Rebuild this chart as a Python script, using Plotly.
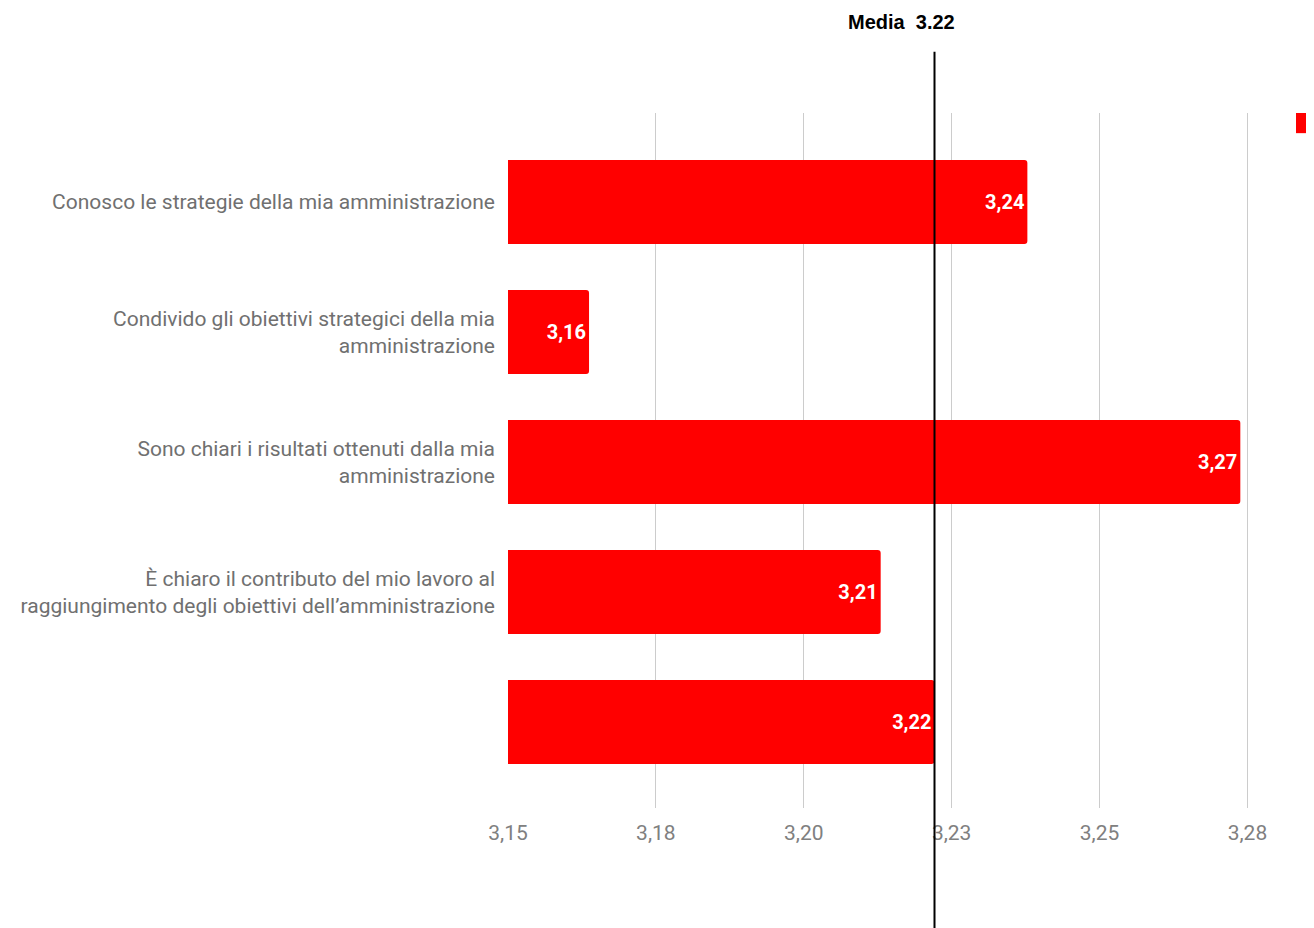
import plotly.graph_objects as go

categories = [
    "Conosco le strategie della mia amministrazione",
    "Condivido gli obiettivi strategici della mia<br>amministrazione",
    "Sono chiari i risultati ottenuti dalla mia<br>amministrazione",
    "È chiaro il contributo del mio lavoro al<br>raggiungimento degli obiettivi dell’amministrazione",
    " ",
]
values = [3.2378, 3.1637, 3.2738, 3.2130, 3.2221]
bar_labels = ["3,24", "3,16", "3,27", "3,21", "3,22"]
media_value = 3.2221
media_text = "Media  3.22"
tick_vals = [3.15, 3.175, 3.20, 3.225, 3.25, 3.275]
tick_labels = ["3,15", "3,18", "3,20", "3,23", "3,25", "3,28"]

RED = "#ff0000"

fig = go.Figure()
fig.add_trace(go.Bar(
    y=list(range(len(categories))),
    x=values,
    base=0,
    orientation="h",
    marker=dict(color=RED, line=dict(width=0)),
    text=bar_labels,
    textposition="inside",
    insidetextanchor="end",
    textfont=dict(family="Roboto", size=20, color="white", weight="bold"),
    showlegend=False,
    hoverinfo="skip",
))

fig.add_shape(type="line", xref="x", yref="paper",
              x0=media_value, x1=media_value, y0=-0.175, y1=1.088,
              line=dict(color="black", width=2))
fig.add_annotation(text=f"<b>{media_text}</b>", xref="x", yref="paper",
                   x=media_value, y=1.131, xanchor="right", xshift=22,
                   yanchor="middle", showarrow=False,
                   font=dict(family="Liberation Sans, Arial", size=20, color="black"))
# legend swatch (partially cut off at right edge)
fig.add_shape(type="rect", xref="paper", yref="paper",
              x0=1.0247, x1=1.06, y0=0.971, y1=1.0,
              fillcolor=RED, line=dict(width=0))

fig.update_layout(
    width=1306, height=920,
    margin=dict(l=500, r=37, t=105, b=120),
    paper_bgcolor="white", plot_bgcolor="white",
    bargap=0.354,
    barcornerradius=3,
    separators=",.",
    xaxis=dict(range=[3.15, 3.28], tickvals=tick_vals, ticktext=tick_labels,
               showgrid=True, gridcolor="#cccccc", gridwidth=1,
               zeroline=False, showline=False, ticks="",
               ticklabelstandoff=10,
               tickfont=dict(family="Roboto", size=21, color="#808080")),
    yaxis=dict(tickvals=list(range(len(categories))), ticktext=categories,
               range=[len(categories) - 0.5 + 0.161, -0.5 - 0.185],
               showgrid=False, zeroline=False, showline=False, ticks="",
               ticklabelstandoff=12,
               tickfont=dict(family="Roboto", size=21, color="#707070")),
)

fig.write_html("out.html")
